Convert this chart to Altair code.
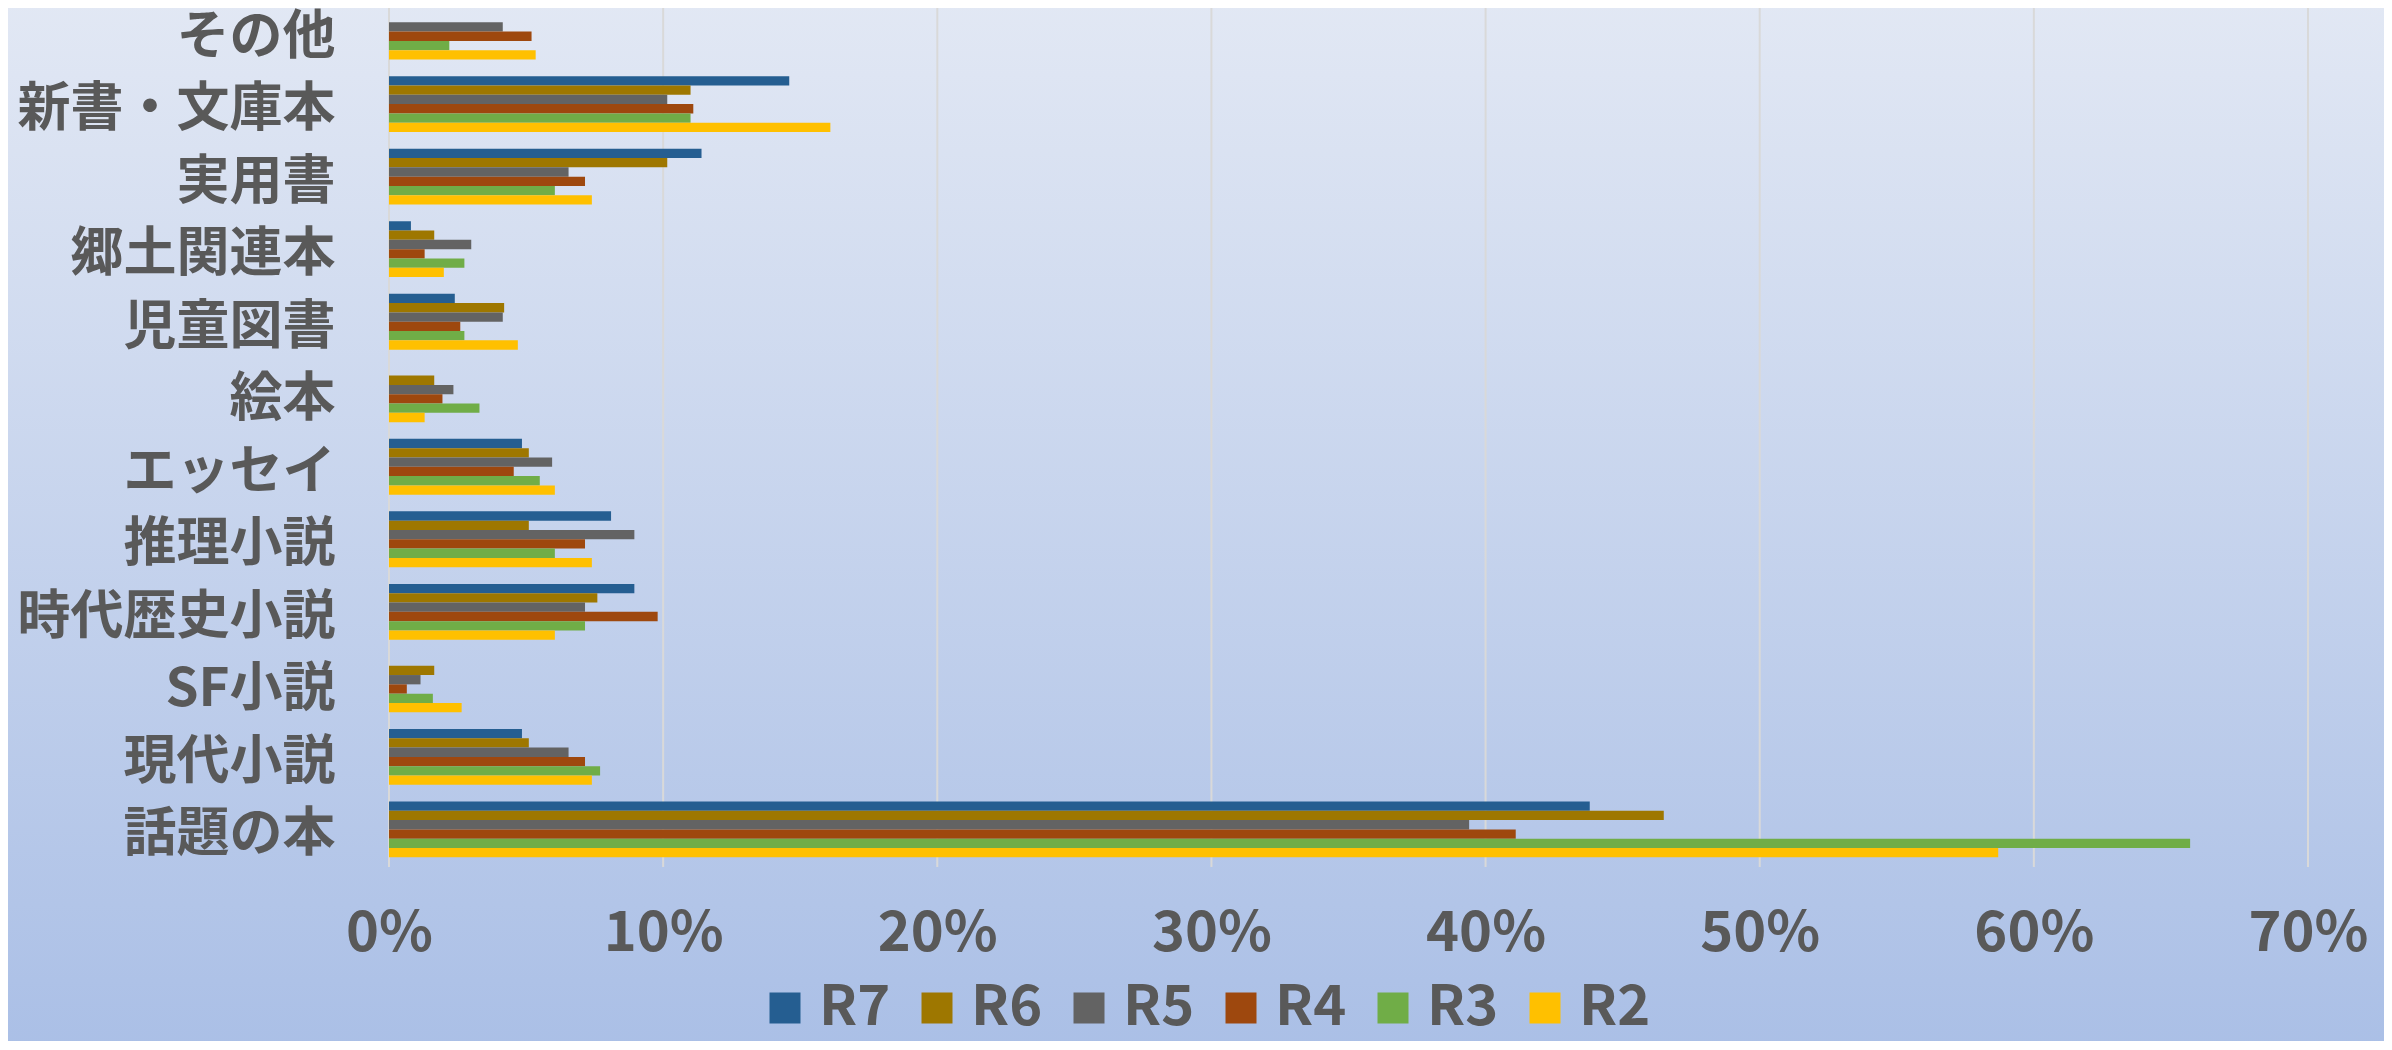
import altair as alt
import pandas as pd

categories = ["その他", "新書・文庫本", "実用書", "郷土関連本", "児童図書", "絵本",
              "エッセイ", "推理小説", "時代歴史小説", "SF小説", "現代小説", "話題の本"]
series = ["R7", "R6", "R5", "R4", "R3", "R2"]
colors = ["#255e91", "#9e7700", "#636363", "#9e480e", "#70ad47", "#ffc000"]

# percent values per series, in category order
R7 = [0.0, 14.6, 11.4, 0.8, 2.4, 0.0, 4.85, 8.1, 8.95, 0.0, 4.85, 43.8]
R6 = [0.0, 11.0, 10.15, 1.65, 4.2, 1.65, 5.1, 5.1, 7.6, 1.65, 5.1, 46.5]
R5 = [4.15, 10.15, 6.55, 3.0, 4.15, 2.35, 5.95, 8.95, 7.15, 1.15, 6.55, 39.4]
R4 = [5.2, 11.1, 7.15, 1.3, 2.6, 1.95, 4.55, 7.15, 9.8, 0.65, 7.15, 41.1]
R3 = [2.2, 11.0, 6.05, 2.75, 2.75, 3.3, 5.5, 6.05, 7.15, 1.6, 7.7, 65.7]
R2 = [5.35, 16.1, 7.4, 2.0, 4.7, 1.3, 6.05, 7.4, 6.05, 2.65, 7.4, 58.7]

tick_values = [0, 0.1, 0.2, 0.3, 0.4, 0.5, 0.6, 0.7]

values = {"R7": R7, "R6": R6, "R5": R5, "R4": R4, "R3": R3, "R2": R2}
rows = []
for s in series:
    for c, v in zip(categories, values[s]):
        rows.append({"cat": c, "series": s, "value": v / 100.0})
df = pd.DataFrame(rows)

W, H = 1919, 851
FONT = "Noto Sans CJK JP"
TXT = "#595959"

xscale = alt.Scale(domain=[0, 0.7], nice=False, zero=True)
xaxis = alt.Axis(values=tick_values, format=".0%", labelFontSize=56,
                 labelFontWeight="bold", labelColor=TXT, labelFont=FONT,
                 labelPadding=39, ticks=False, tickSize=0, domain=False,
                 grid=False, zindex=2, labelFlush=False, labelAlign="center")

bg = alt.Chart(pd.DataFrame({"a": [0]})).mark_rect(
    fill=alt.Gradient(
        gradient="linear", x1=0, y1=0, x2=0, y2=1,
        stops=[alt.GradientStop(offset=0, color="#e2e8f4"),
               alt.GradientStop(offset=1, color="#aabfe6")],
    )
).encode(x=alt.value(-400), x2=alt.value(W + 100), y=alt.value(-18), y2=alt.value(H + 190))

grid = alt.Chart(pd.DataFrame({"t": tick_values})).mark_rule(
    color="#d9d9d9", strokeWidth=2
).encode(x=alt.X("t:Q", scale=xscale, axis=xaxis, title=None),
         y=alt.value(-16), y2=alt.value(H))

bars = alt.Chart(df).mark_bar().encode(
    y=alt.Y("cat:N", sort=categories, title=None,
            scale=alt.Scale(paddingInner=0.23, paddingOuter=0.023, range=[-14, 843]),
            axis=alt.Axis(labelFontSize=53, labelFontWeight="bold", labelColor=TXT,
                          labelFont=FONT, labelPadding=54, ticks=False, tickSize=0,
                          domain=False, grid=False, labelLimit=600, zindex=2,
                          labelOffset=6)),
    yOffset=alt.YOffset("series:N", sort=series,
                        scale=alt.Scale(paddingInner=0, paddingOuter=0)),
    x=alt.X("value:Q", scale=xscale, title=None, axis=xaxis),
    color=alt.Color("series:N", sort=series,
                    scale=alt.Scale(domain=series, range=colors),
                    legend=alt.Legend(orient="none", legendX=368, legendY=964,
                                      direction="horizontal", title=None,
                                      symbolType="square", symbolSize=961,
                                      symbolStrokeWidth=0, labelFontSize=56,
                                      labelFont=FONT, labelFontWeight="bold",
                                      labelColor=TXT, labelOffset=6,
                                      columnPadding=18)),
)

chart = alt.layer(bg, grid, bars).properties(
    width=W, height=H,
    autosize=alt.AutoSizeParams(type="none"),
    padding={"left": 381, "top": 8, "right": 76, "bottom": 174},
).configure_view(stroke=None).configure(background="#c8d5ee")

chart.save("out.html", embed_options={"renderer": "svg", "actions": False})
